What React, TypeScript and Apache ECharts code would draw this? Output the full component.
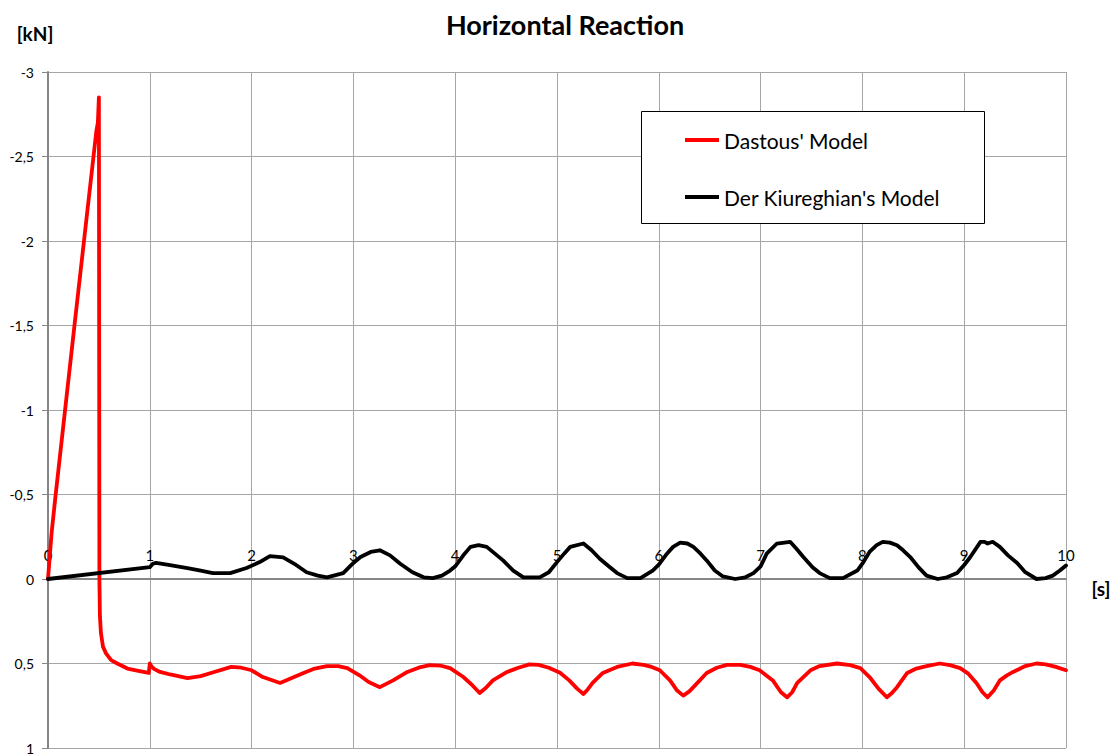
import { useEffect, useRef } from "react";
import * as echarts from "echarts";

const FONT = "Lato, 'Open Sans', sans-serif";

// Time axis [s] and horizontal reaction [kN] (negative values plotted upward)
const xTicks = [0, 1, 2, 3, 4, 5, 6, 7, 8, 9, 10];
const yRange = [-3, 1];

const dastous: [number, number][] = [
  [0, 0], [0.035, -0.27], [0.07, -0.47], [0.26, -1.5], [0.475, -2.65], [0.49, -2.7], [0.5, -2.85],
  [0.505, 0.0], [0.51, 0.22], [0.52, 0.32], [0.54, 0.4], [0.57, 0.44], [0.62, 0.48],
  [0.68, 0.5], [0.78, 0.53], [0.9, 0.545], [0.99, 0.556], [1.0, 0.5], [1.02, 0.52],
  [1.05, 0.535], [1.1, 0.55], [1.2, 0.565], [1.37, 0.586], [1.5, 0.575], [1.6, 0.556],
  [1.8, 0.52], [1.9, 0.525], [2.0, 0.54], [2.11, 0.58], [2.28, 0.615], [2.4, 0.585],
  [2.51, 0.556], [2.62, 0.53], [2.74, 0.515], [2.85, 0.515], [2.94, 0.527], [3.06, 0.57],
  [3.15, 0.61], [3.26, 0.64], [3.39, 0.6], [3.53, 0.55], [3.64, 0.525], [3.75, 0.51],
  [3.85, 0.512], [3.95, 0.527], [4.08, 0.58], [4.17, 0.63], [4.24, 0.675], [4.3, 0.645],
  [4.37, 0.6], [4.51, 0.55], [4.62, 0.525], [4.73, 0.505], [4.82, 0.508], [4.92, 0.525],
  [5.03, 0.555], [5.12, 0.6], [5.2, 0.65], [5.26, 0.68], [5.3, 0.655], [5.35, 0.615],
  [5.45, 0.556], [5.59, 0.52], [5.74, 0.5], [5.85, 0.508], [5.93, 0.52], [6.01, 0.54],
  [6.11, 0.6], [6.18, 0.66], [6.24, 0.69], [6.3, 0.665], [6.34, 0.64], [6.47, 0.556],
  [6.57, 0.525], [6.67, 0.508], [6.8, 0.508], [6.9, 0.52], [6.99, 0.54], [7.12, 0.6],
  [7.2, 0.67], [7.26, 0.7], [7.31, 0.67], [7.36, 0.615], [7.49, 0.54], [7.58, 0.515],
  [7.75, 0.5], [7.88, 0.51], [7.98, 0.527], [8.07, 0.58], [8.16, 0.65], [8.24, 0.7],
  [8.29, 0.675], [8.34, 0.64], [8.44, 0.556], [8.53, 0.53], [8.63, 0.515], [8.76, 0.5],
  [8.86, 0.51], [8.96, 0.527], [9.04, 0.56], [9.12, 0.615], [9.18, 0.67], [9.23, 0.7],
  [9.29, 0.66], [9.35, 0.6], [9.42, 0.57], [9.48, 0.55], [9.6, 0.515], [9.71, 0.5],
  [9.8, 0.505], [9.9, 0.52], [10, 0.54],
];

const derKiureghian: [number, number][] = [
  [0, 0], [1.0, -0.07], [1.03, -0.09], [1.06, -0.095], [1.17, -0.085], [1.37, -0.065],
  [1.5, -0.05], [1.62, -0.035], [1.79, -0.035], [1.95, -0.065], [2.08, -0.1], [2.18, -0.135],
  [2.31, -0.128], [2.42, -0.09], [2.54, -0.04], [2.65, -0.02], [2.74, -0.01], [2.9, -0.035],
  [3.0, -0.095], [3.07, -0.13], [3.17, -0.16], [3.26, -0.17], [3.36, -0.14], [3.46, -0.09],
  [3.58, -0.04], [3.69, -0.01], [3.78, -0.005], [3.87, -0.02], [3.95, -0.05], [4.0, -0.075],
  [4.08, -0.14], [4.15, -0.19], [4.23, -0.2], [4.31, -0.19], [4.39, -0.15], [4.47, -0.11],
  [4.57, -0.05], [4.67, -0.01], [4.83, -0.01], [4.92, -0.04], [5.0, -0.1], [5.07, -0.15],
  [5.13, -0.19], [5.26, -0.21], [5.34, -0.17], [5.42, -0.12], [5.52, -0.07], [5.59, -0.035],
  [5.69, -0.005], [5.82, -0.005], [5.94, -0.05], [6.0, -0.085], [6.08, -0.15], [6.14, -0.19],
  [6.21, -0.215], [6.28, -0.21], [6.34, -0.19], [6.41, -0.15], [6.47, -0.11], [6.55, -0.05],
  [6.63, -0.015], [6.75, 0.0], [6.85, -0.01], [6.93, -0.035], [7.0, -0.075], [7.06, -0.15],
  [7.16, -0.21], [7.29, -0.22], [7.35, -0.18], [7.42, -0.13], [7.51, -0.07], [7.58, -0.035],
  [7.68, -0.005], [7.81, -0.005], [7.95, -0.05], [8.01, -0.1], [8.07, -0.16], [8.14, -0.2],
  [8.2, -0.22], [8.27, -0.215], [8.34, -0.2], [8.4, -0.17], [8.47, -0.13], [8.55, -0.07],
  [8.63, -0.02], [8.74, 0.0], [8.83, -0.01], [8.93, -0.035], [9.0, -0.083], [9.06, -0.13],
  [9.16, -0.22], [9.2, -0.22], [9.23, -0.21], [9.28, -0.22], [9.35, -0.19], [9.43, -0.14],
  [9.52, -0.095], [9.6, -0.04], [9.71, 0.0], [9.8, -0.005], [9.87, -0.02], [9.94, -0.05],
  [10, -0.08],
];

const seriesNames = ["Dastous' Model", "Der Kiureghian's Model"];

const GRID_TOP = 72;
const GRID_BOTTOM = 8;
const HEIGHT = 756;

export default function App() {
  const ref = useRef<HTMLDivElement>(null);

  useEffect(() => {
    const chart = echarts.init(ref.current!, null, { renderer: "svg" });
    // The time axis sits on the zero line of the force axis, with its labels above it.
    const plotH = HEIGHT - GRID_TOP - GRID_BOTTOM;
    const zeroOffset = -((0 - yRange[0]) / (yRange[1] - yRange[0])) * plotH;
    chart.setOption({
      animation: false,
      backgroundColor: "#ffffff",
      grid: { left: 48, right: 53, top: GRID_TOP, bottom: GRID_BOTTOM, containLabel: false },
      graphic: [
        {
          type: "text",
          x: 565,
          y: 24,
          style: {
            text: "Horizontal Reaction",
            fill: "#000",
            fontFamily: FONT,
            fontWeight: "bold",
            fontSize: 27,
            align: "center",
            verticalAlign: "middle",
          },
        },
        {
          type: "text",
          x: 35,
          y: 33,
          style: {
            text: "[kN]",
            fill: "#000",
            fontFamily: FONT,
            fontWeight: "bold",
            fontSize: 19,
            align: "center",
            verticalAlign: "middle",
          },
        },
        {
          type: "text",
          x: 1101,
          y: 588,
          style: {
            text: "[s]",
            fill: "#000",
            fontFamily: FONT,
            fontWeight: "bold",
            fontSize: 19,
            align: "center",
            verticalAlign: "middle",
          },
        },
        {
          type: "rect",
          z: 3,
          shape: { x: 641.5, y: 111.5, width: 343, height: 112 },
          style: { fill: "#fff", stroke: "#000", lineWidth: 1 },
        },
      ],
      legend: {
        orient: "vertical",
        left: 680,
        top: 123,
        z: 5,
        icon: "rect",
        itemWidth: 34,
        itemHeight: 4,
        itemGap: 33,
        selectedMode: false,
        textStyle: { fontFamily: FONT, fontSize: 21, color: "#000", lineHeight: 24 },
        data: seriesNames,
      },
      xAxis: {
        type: "value",
        min: xTicks[0],
        max: xTicks[xTicks.length - 1],
        interval: 1,
        position: "top",
        offset: zeroOffset,
        axisLine: { onZero: false, lineStyle: { color: "#868686", width: 2 } },
        axisTick: { show: false },
        axisLabel: { margin: 17, fontFamily: FONT, fontSize: 15, color: "#000" },
        splitLine: { show: true, lineStyle: { color: "#a6a6a6", width: 1 } },
      },
      yAxis: {
        type: "value",
        inverse: true,
        min: yRange[0],
        max: yRange[1],
        interval: 0.5,
        axisLine: { show: true, onZero: false, lineStyle: { color: "#868686", width: 2 } },
        axisTick: { show: true, length: 6, lineStyle: { color: "#868686" } },
        axisLabel: {
          margin: 14,
          fontFamily: FONT,
          fontSize: 14,
          color: "#000",
          formatter: (v: number) => String(v).replace(".", ","),
        },
        splitLine: { show: true, lineStyle: { color: "#a6a6a6", width: 1 } },
      },
      series: [
        {
          name: seriesNames[0],
          type: "line",
          data: dastous,
          showSymbol: false,
          symbol: "none",
          color: "#ff0000",
          lineStyle: { color: "#ff0000", width: 3.8, join: "round", cap: "round" },
        },
        {
          name: seriesNames[1],
          type: "line",
          data: derKiureghian,
          showSymbol: false,
          symbol: "none",
          color: "#000000",
          lineStyle: { color: "#000000", width: 3.8, join: "round", cap: "round" },
        },
      ],
    });
    return () => chart.dispose();
  }, []);

  return (
    <div
      ref={ref}
      style={{ position: "absolute", left: 0, top: 0, width: 1119, height: 756, background: "#fff" }}
    />
  );
}
